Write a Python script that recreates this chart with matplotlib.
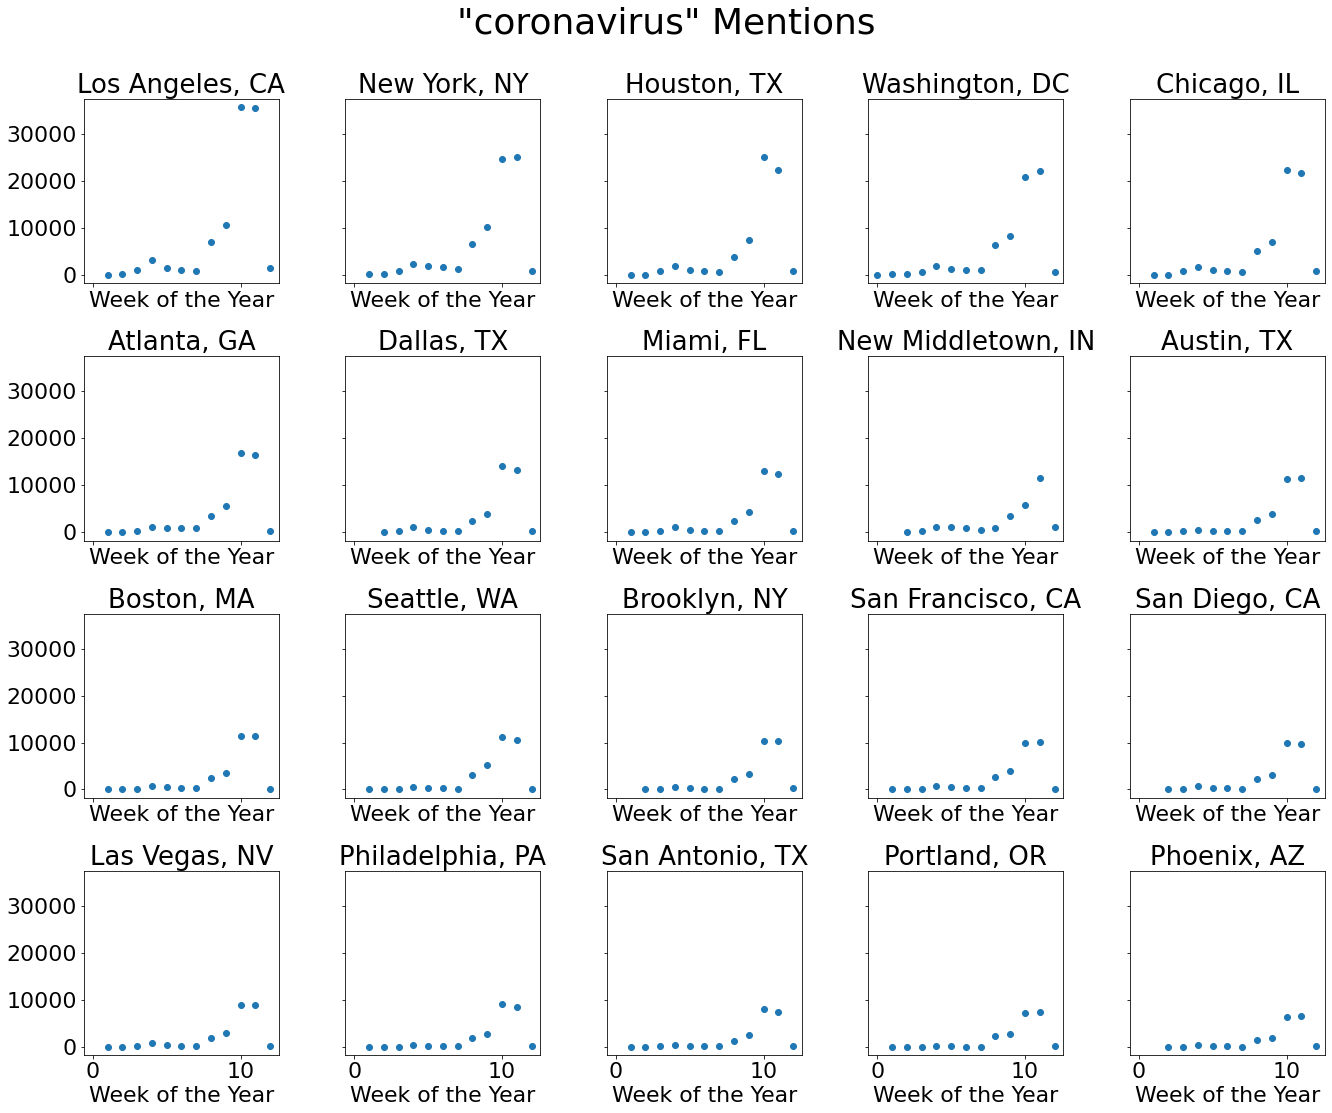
import matplotlib
matplotlib.use("Agg")
import matplotlib.pyplot as plt

cities = ["Los Angeles, CA", "New York, NY", "Houston, TX", "Washington, DC", "Chicago, IL",
          "Atlanta, GA", "Dallas, TX", "Miami, FL", "New Middletown, IN", "Austin, TX",
          "Boston, MA", "Seattle, WA", "Brooklyn, NY", "San Francisco, CA", "San Diego, CA",
          "Las Vegas, NV", "Philadelphia, PA", "San Antonio, TX", "Portland, OR", "Phoenix, AZ"]

# first week with data for each city
first_week = [1, 1, 1, 0, 1,
              1, 2, 1, 2, 1,
              1, 1, 2, 1, 2,
              1, 1, 1, 1, 2]

mentions = [
    [50, 150, 1000, 3150, 1450, 1050, 850, 7000, 10650, 35700, 35500, 1450],
    [150, 150, 800, 2300, 1850, 1650, 1200, 6550, 10200, 24800, 25200, 800],
    [30, 30, 800, 1800, 1000, 800, 550, 3800, 7450, 25200, 22400, 800],
    [30, 150, 150, 550, 1800, 1200, 1000, 1000, 6350, 8300, 20900, 22200, 550],
    [30, 30, 800, 1650, 1000, 800, 550, 5050, 7050, 22400, 21800, 800],
    [30, 30, 350, 1200, 800, 800, 800, 3350, 5500, 16850, 16450, 350],
    [30, 350, 1000, 550, 350, 350, 2300, 3800, 14050, 13200, 350],
    [30, 30, 350, 1000, 550, 350, 350, 2300, 4200, 13000, 12350, 350],
    [30, 150, 1200, 1000, 800, 550, 800, 3350, 5700, 11500, 1000],
    [30, 30, 350, 550, 350, 350, 350, 2500, 3800, 11300, 11500, 350],
    [30, 30, 150, 800, 550, 350, 350, 2500, 3600, 11350, 11350, 150],
    [30, 30, 150, 550, 350, 350, 150, 3150, 5300, 11100, 10450, 150],
    [30, 150, 550, 350, 150, 150, 2300, 3350, 10250, 10250, 350],
    [30, 30, 150, 800, 550, 350, 350, 2700, 4000, 9800, 10050, 150],
    [30, 150, 800, 350, 350, 150, 2300, 3150, 9800, 9600, 150],
    [30, 30, 150, 800, 350, 150, 150, 1850, 2950, 8800, 9000, 150],
    [30, 30, 30, 350, 150, 150, 150, 1850, 2750, 9200, 8550, 150],
    [30, 30, 150, 350, 150, 150, 150, 1200, 2500, 8150, 7500, 150],
    [30, 30, 30, 150, 150, 30, 30, 2300, 2750, 7300, 7500, 150],
    [30, 30, 350, 150, 150, 30, 1500, 1950, 6400, 6600, 150],
]

x_ticks = [0, 10]
y_ticks = [0, 10000, 20000, 30000]

plt.rcParams["font.family"] = "DejaVu Sans"
fig, axes = plt.subplots(4, 5, figsize=(1332 / 72, 1113 / 72), dpi=72, sharex=True, sharey=True)
fig.subplots_adjust(left=0.063, right=0.9947, bottom=0.052, top=0.911, wspace=0.341, hspace=0.397)

for ax, city, w0, vals in zip(axes.flat, cities, first_week, mentions):
    weeks = list(range(w0, w0 + len(vals)))
    ax.scatter(weeks, vals, color="#1f77b4")
    ax.set_title(city, fontsize=26)
    ax.set_xlabel("Week of the Year", fontsize=22)
    ax.tick_params(labelsize=22)

axes[0, 0].set_xticks(x_ticks)
axes[0, 0].set_yticks(y_ticks)
axes[0, 0].set_xlim(-0.6, 12.6)
axes[0, 0].set_ylim(-1785, 37485)

fig.suptitle('"coronavirus" Mentions', fontsize=36, y=0.9945)
fig.savefig("out.png", dpi=72)
